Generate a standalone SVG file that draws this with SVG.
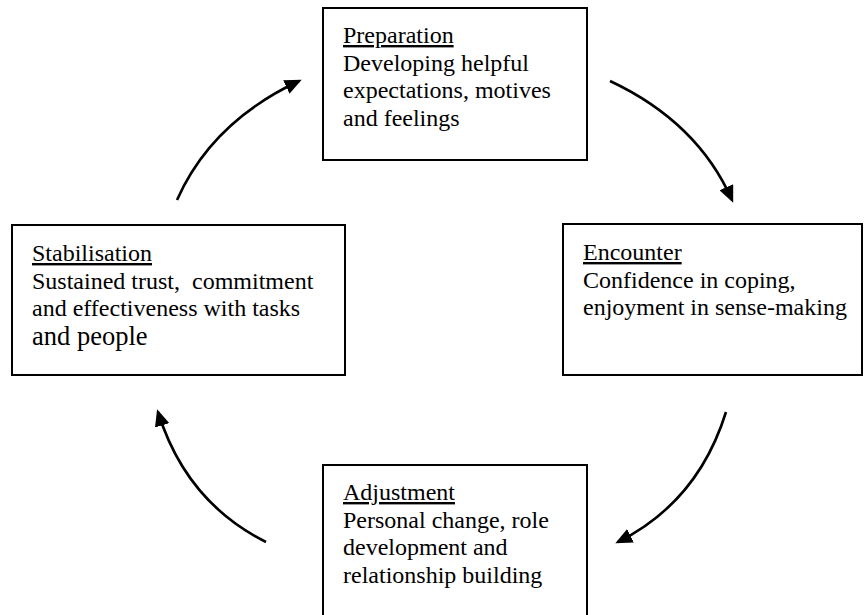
<svg xmlns="http://www.w3.org/2000/svg" width="864" height="615" viewBox="0 0 864 615">
<style>
.box{fill:#fff;stroke:#000;stroke-width:2}
.t{font-family:"Liberation Serif","Times New Roman",serif;font-size:24px;fill:#000;white-space:pre}
.u{text-decoration:underline}
.arr{fill:none;stroke:#000;stroke-width:2.6;marker-end:url(#ah)}
</style>
<defs>
<marker id="ah" markerUnits="userSpaceOnUse" markerWidth="17" markerHeight="15" viewBox="0 0 17 15" refX="14" refY="7.5" orient="auto">
<path d="M0,0 L17,7.5 L0,15 z" fill="#000"/>
</marker>
</defs>
<rect width="864" height="615" fill="#fff"/>
<g id="preparation">
<rect class="box" x="323" y="8" width="264" height="152"/>
<text class="t" x="343" y="43"><tspan class="u">Preparation</tspan><tspan x="343" dy="27.5">Developing helpful</tspan><tspan x="343" dy="27.5">expectations, motives</tspan><tspan x="343" dy="27.5">and feelings</tspan></text>
</g>
<g id="stabilisation">
<rect class="box" x="12" y="225" width="333" height="150"/>
<text class="t" x="32" y="261" xml:space="preserve"><tspan class="u">Stabilisation</tspan><tspan x="32" dy="27.5">Sustained trust,  commitment</tspan><tspan x="32" dy="27.5">and effectiveness with tasks</tspan><tspan x="32" dy="28.5" style="font-size:26.5px">and people</tspan></text>
</g>
<g id="encounter">
<rect class="box" x="563" y="224" width="299" height="151"/>
<text class="t" x="583" y="260"><tspan class="u">Encounter</tspan><tspan x="583" dy="27.5">Confidence in coping,</tspan><tspan x="583" dy="27.5">enjoyment in sense-making</tspan></text>
</g>
<g id="adjustment">
<rect class="box" x="323" y="465" width="264" height="160"/>
<text class="t" x="343" y="500"><tspan class="u">Adjustment</tspan><tspan x="343" dy="27.5">Personal change, role</tspan><tspan x="343" dy="27.5">development and</tspan><tspan x="343" dy="27.5">relationship building</tspan></text>
</g>
<g id="connectors">
<path class="arr" d="M177,200 Q211.5,122 299,81"/>
<path class="arr" d="M610,81 Q697.5,122 732,200"/>
<path class="arr" d="M726,412 Q698,502 618,542"/>
<path class="arr" d="M266,542 Q186,502 158,412"/>
</g>
</svg>
